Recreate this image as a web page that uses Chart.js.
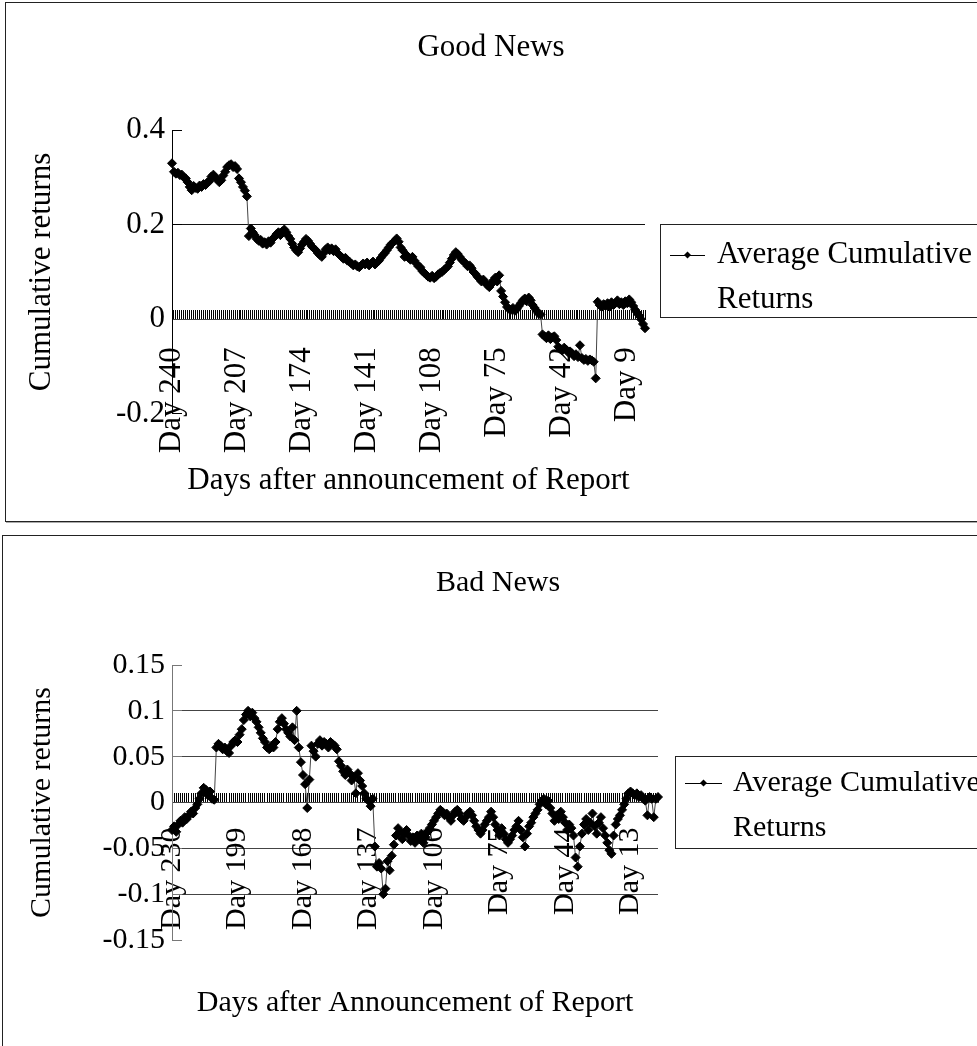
<!DOCTYPE html>
<html>
<head>
<meta charset="utf-8">
<title>Average cumulative returns after the report</title>
<script src="https://cdn.jsdelivr.net/npm/chart.js@4.4.1/dist/chart.umd.min.js"></script>
<style>
  html, body { margin: 0; padding: 0; background: #fff; overflow: hidden; }
  body { width: 977px; height: 1046px; position: relative; }
  .frame { position: absolute; border: 1px solid #222; box-shadow: 1px 1px 0 #aaa; }
  canvas { position: absolute; left: 0; }
</style>
</head>
<body>
<div class="frame" style="left:5px;top:2px;width:1000px;height:518px"></div>
<div class="frame" style="left:2px;top:535px;width:1000px;height:600px"></div>
<canvas id="goodChart" width="977" height="521" style="top:0"></canvas>
<canvas id="badChart" width="977" height="523" style="top:523px"></canvas>
<script>
// Good news: Day 240 down to Day 0
const goodFirstDay = 240;
const goodLabelDays = [240, 207, 174, 141, 108, 75, 42, 9];
const goodYTicks = [-0.2, 0, 0.2, 0.4];
const goodGridValues = [0.2];
const goodReturns = [
  0.330, 0.312, 0.308, 0.310, 0.305, 0.306, 0.300, 0.298, 0.290, 0.280,
  0.273, 0.282, 0.278, 0.276, 0.283, 0.280, 0.286, 0.284, 0.290, 0.292,
  0.302, 0.306, 0.300, 0.296, 0.290, 0.294, 0.304, 0.312, 0.322, 0.326,
  0.328, 0.322, 0.324, 0.318, 0.298, 0.290, 0.280, 0.272, 0.260,
  0.176, 0.192, 0.184, 0.178, 0.170, 0.166, 0.168, 0.160, 0.163, 0.158,
  0.165, 0.162, 0.170, 0.174, 0.180, 0.184, 0.178, 0.186, 0.190, 0.184,
  0.176, 0.170, 0.160, 0.152, 0.146, 0.142, 0.150, 0.158, 0.164, 0.170,
  0.166, 0.160, 0.154, 0.150, 0.146, 0.140, 0.136, 0.132, 0.140, 0.148,
  0.152, 0.146, 0.150, 0.144, 0.148, 0.140, 0.136, 0.132, 0.128, 0.130,
  0.124, 0.122, 0.118, 0.114, 0.116, 0.112, 0.110, 0.114, 0.118, 0.116,
  0.120, 0.114, 0.118, 0.122, 0.116, 0.120, 0.124, 0.130, 0.136, 0.140,
  0.146, 0.152, 0.158, 0.162, 0.166, 0.171, 0.164, 0.152, 0.146, 0.132,
  0.136, 0.130, 0.126, 0.132, 0.124, 0.118, 0.112, 0.110, 0.102, 0.098,
  0.094, 0.090, 0.088, 0.092, 0.087, 0.090, 0.095, 0.098, 0.100, 0.104,
  0.108, 0.112, 0.120, 0.128, 0.136, 0.142, 0.138, 0.132, 0.126, 0.122,
  0.118, 0.112, 0.114, 0.108, 0.100, 0.096, 0.090, 0.086, 0.080, 0.084,
  0.078, 0.072, 0.068, 0.074, 0.082, 0.088, 0.080, 0.093, 0.060, 0.048,
  0.036, 0.026, 0.022, 0.020, 0.024, 0.018, 0.022, 0.028, 0.034, 0.040,
  0.044, 0.038, 0.046, 0.040, 0.030, 0.024, 0.018, 0.012, 0.010, -0.032,
  -0.036, -0.040, -0.034, -0.042, -0.038, -0.036, -0.044, -0.058, -0.062, -0.066,
  -0.060, -0.064, -0.070, -0.068, -0.072, -0.078, -0.074, -0.080, -0.055, -0.082,
  -0.086, -0.084, -0.088, -0.085, -0.087, -0.090, -0.125, 0.037, 0.030, 0.026,
  0.032, 0.028, 0.034, 0.026, 0.036, 0.030, 0.034, 0.040, 0.032, 0.036,
  0.030, 0.038, 0.034, 0.042, 0.036, 0.028, 0.020, 0.014, 0.008, 0.000,
  -0.010, -0.019
];

// Bad news: Day 230 down to Day 0
const badFirstDay = 230;
const badLabelDays = [230, 199, 168, 137, 106, 75, 44, 13];
const badYTicks = [-0.15, -0.1, -0.05, 0, 0.05, 0.1, 0.15];
const badGridValues = [-0.1, -0.05, 0.05, 0.1];
const badReturns = [
  -0.030, -0.026, -0.032, -0.024, -0.020, -0.022, -0.016, -0.018, -0.014, -0.010,
  -0.012, -0.006, -0.002, 0.004, 0.010, 0.016, 0.014, 0.008, 0.012, 0.004,
  0.003, 0.060, 0.064, 0.062, 0.058, 0.060, 0.056, 0.054, 0.062, 0.066,
  0.068, 0.066, 0.074, 0.080, 0.090, 0.096, 0.100, 0.094, 0.098, 0.092,
  0.088, 0.082, 0.076, 0.070, 0.066, 0.060, 0.058, 0.062, 0.060, 0.066,
  0.080, 0.088, 0.092, 0.086, 0.080, 0.076, 0.072, 0.082, 0.068, 0.100,
  0.060, 0.044, 0.030, 0.020, -0.006, 0.025, 0.062, 0.056, 0.050, 0.064,
  0.068, 0.062, 0.066, 0.064, 0.060, 0.066, 0.064, 0.062, 0.058, 0.045,
  0.040, 0.034, 0.030, 0.036, 0.032, 0.024, 0.028, 0.010, 0.032, 0.024,
  0.018, 0.010, 0.004, 0.002, -0.004, 0.004, -0.048, -0.070, -0.066, -0.072,
  -0.100, -0.094, -0.064, -0.074, -0.058, -0.046, -0.036, -0.028, -0.032, -0.040,
  -0.034, -0.030, -0.036, -0.042, -0.038, -0.044, -0.036, -0.040, -0.034, -0.044,
  -0.038, -0.032, -0.028, -0.024, -0.020, -0.016, -0.012, -0.008, -0.010, -0.014,
  -0.012, -0.016, -0.020, -0.014, -0.010, -0.008, -0.012, -0.018, -0.020, -0.016,
  -0.012, -0.010, -0.014, -0.020, -0.026, -0.030, -0.034, -0.030, -0.024, -0.020,
  -0.016, -0.010, -0.016, -0.024, -0.030, -0.036, -0.028, -0.034, -0.040, -0.044,
  -0.040, -0.036, -0.030, -0.026, -0.020, -0.030, -0.038, -0.048, -0.034, -0.026,
  -0.022, -0.016, -0.012, -0.008, -0.002, 0.002, 0.004, -0.002, 0.002, -0.006,
  -0.012, -0.020, -0.014, -0.018, -0.010, -0.016, -0.022, -0.030, -0.024, -0.028,
  -0.036, -0.060, -0.070, -0.048, -0.034, -0.024, -0.018, -0.030, -0.022, -0.012,
  -0.026, -0.034, -0.022, -0.016, -0.028, -0.036, -0.044, -0.052, -0.056, -0.036,
  -0.024, -0.018, -0.014, -0.008, -0.002, 0.004, 0.010, 0.012, 0.010, 0.008,
  0.010, 0.006, 0.008, 0.004, 0.002, -0.014, 0.006, 0.004, -0.016, 0.004, 0.006
];

const seriesName = 'Average Cumulative Returns';
const legendLines = ['Average Cumulative', 'Returns'];
const serif = "'Liberation Serif', 'Times New Roman', serif";

function dayLabels(first, count) {
  const out = [];
  for (let i = 0; i < count; i++) out.push('Day ' + (first - i));
  return out;
}

// legend in a framed box to the right of the plot (Excel style)
const boxLegend = {
  id: 'boxLegend',
  afterDraw(chart, args, opts) {
    const ctx = chart.ctx;
    const ds = chart.data.datasets[0];
    const my = opts.top + opts.markerY;
    ctx.save();
    ctx.strokeStyle = '#222';
    ctx.lineWidth = 1;
    ctx.strokeRect(opts.left + 0.5, opts.top + 0.5, opts.width, opts.height);
    ctx.strokeStyle = '#000';
    ctx.beginPath();
    ctx.moveTo(opts.left + opts.lineX1, my + 0.5);
    ctx.lineTo(opts.left + opts.lineX2, my + 0.5);
    ctx.stroke();
    const cx = opts.left + (opts.lineX1 + opts.lineX2) / 2;
    ctx.fillStyle = ds.pointBackgroundColor;
    ctx.beginPath();
    ctx.moveTo(cx, my - 3.5);
    ctx.lineTo(cx + 3.5, my);
    ctx.lineTo(cx, my + 3.5);
    ctx.lineTo(cx - 3.5, my);
    ctx.closePath();
    ctx.fill();
    ctx.fillStyle = '#000';
    ctx.font = opts.fontSize + 'px ' + serif;
    ctx.textBaseline = 'middle';
    legendLines.forEach((t, k) => ctx.fillText(t, opts.left + opts.textX, my + k * opts.lineGap));
    ctx.restore();
  }
};

function makeChart(id, o) {
  const labels = dayLabels(o.firstDay, o.values.length);
  const font = {family: serif, size: o.fontSize, weight: 'normal'};
  return new Chart(document.getElementById(id), {
    type: 'line',
    data: {
      labels: labels,
      datasets: [{
        label: seriesName,
        data: o.values,
        borderColor: '#444',
        borderWidth: 1,
        pointStyle: 'rectRot',
        pointRadius: 4.5,
        pointBackgroundColor: '#000',
        pointBorderColor: '#000',
        pointBorderWidth: 1,
        tension: 0,
        fill: false
      }]
    },
    options: {
      responsive: false,
      animation: false,
      devicePixelRatio: 1,
      layout: {padding: {left: o.padLeft, right: 0, top: 0, bottom: 0}},
      plugins: {
        legend: {display: false},
        tooltip: {enabled: false},
        title: {display: true, text: o.title, color: '#000', font: font, padding: o.titlePad},
        subtitle: {display: true, fullSize: false, position: 'bottom', text: o.xTitle, color: '#000', font: font, padding: o.xTitlePad},
        boxLegend: o.legend
      },
      scales: {
        x: {
          type: 'category',
          position: {y: 0},
          offset: false,
          grid: {drawOnChartArea: false, drawTicks: true, tickLength: -10, tickColor: '#000', tickWidth: 1},
          border: {color: '#444', width: 1},
          ticks: {
            autoSkip: false, minRotation: 90, maxRotation: 90,
            padding: o.xLabelPad, color: '#000', font: font,
            callback: (v, i) => o.labelDays.includes(o.firstDay - i) ? labels[i] : ''
          },
          afterFit: s => { s.height = 0; }
        },
        y: {
          min: o.yTicks[0],
          max: o.yTicks[o.yTicks.length - 1],
          afterBuildTicks: s => { s.ticks = o.yTicks.map(v => ({value: v})); },
          ticks: {padding: 17, color: '#000', font: font, callback: v => String(Math.round(v * 100) / 100)},
          grid: {
            color: c => (c.tick && o.gridValues.some(g => Math.abs(g - c.tick.value) < 1e-9)) ? o.gridColor : 'rgba(0,0,0,0)',
            tickColor: o.axisColor,
            tickLength: -10
          },
          border: {color: o.axisColor, width: 1},
          title: {display: true, text: 'Cumulative returns', color: '#000', font: font, padding: {top: o.yTitlePad, bottom: 0}},
          afterFit: s => { s.width = 172 - o.padLeft; }
        },
        // empty right-hand column that holds the legend area
        legendSpace: {
          type: 'linear',
          position: 'right',
          grid: {display: false},
          border: {display: false},
          ticks: {display: false},
          afterFit: s => { s.width = o.legendSpace; }
        }
      }
    },
    plugins: [boxLegend]
  });
}

makeChart('goodChart', {
  title: 'Good News',
  xTitle: 'Days after announcement of Report',
  firstDay: goodFirstDay,
  labelDays: goodLabelDays,
  values: goodReturns,
  yTicks: goodYTicks,
  gridValues: goodGridValues,
  gridColor: '#111',
  axisColor: '#000',
  fontSize: 31,
  padLeft: 5,
  yTitlePad: 18,
  legendSpace: 332,
  titlePad: {top: 29, bottom: 64},
  xTitlePad: {top: 48, bottom: 22},
  xLabelPad: 38,
  legend: {left: 660, top: 224, width: 330, height: 93, markerY: 31, lineGap: 45, lineX1: 10, lineX2: 45, textX: 57, fontSize: 31}
});

makeChart('badChart', {
  title: 'Bad News',
  xTitle: 'Days after Announcement of Report',
  firstDay: badFirstDay,
  labelDays: badLabelDays,
  values: badReturns,
  yTicks: badYTicks,
  gridValues: badGridValues,
  gridColor: '#444',
  axisColor: '#777',
  fontSize: 30,
  padLeft: 19,
  yTitlePad: 5,
  legendSpace: 319,
  titlePad: {top: 42, bottom: 64},
  xTitlePad: {top: 45, bottom: 25},
  xLabelPad: 35,
  legend: {left: 675, top: 233, width: 320, height: 92, markerY: 27, lineGap: 45, lineX1: 10, lineX2: 47, textX: 58, fontSize: 30}
});
</script>
</body>
</html>
